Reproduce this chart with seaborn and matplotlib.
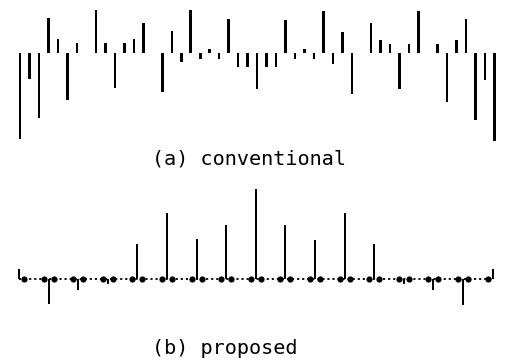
import numpy as np
import pandas as pd
import matplotlib
matplotlib.use("Agg")
import matplotlib.pyplot as plt
import seaborn as sns

# ----- data -----
# (a) conventional: 51 coefficients
conv_values = [-86, -26, -65, 35, 14, -47, 10, 0, 43, 10,
               -35, 10, 14, 30, 0, -39, 22, -9, 43, -6,
               4, -6, 34, -14, -14, -36, -14, -14, 33, -6,
               4, -6, 42, -11, 21, -41, 0, 30, 13, 9,
               -36, 9, 42, 0, 9, -49, 13, 34, -67, -27, -88]
conv_index = list(range(len(conv_values)))

# (b) proposed: 17 stems
prop_values = [10, -25, -11, -5, 35, 65, 40, 54, 89, 54, 39, 65, 35, -5, -11, -26, 10]
prop_index = list(range(len(prop_values)))

titles = ["(a) conventional", "(b) proposed"]

sns.set_theme(style="white")
plt.rcParams['font.family'] = ['DejaVu Sans Mono', 'DejaVu Sans']

fig = plt.figure(figsize=(5.06, 3.61), dpi=100)
fig.patch.set_facecolor("white")

# -----(a) conventional-----
ax1 = fig.add_axes([0.0302, 0.5975, 0.956, 0.385])
df_a = pd.DataFrame({"n": conv_index, "v": conv_values})
sns.barplot(data=df_a, x="n", y="v", color="black", width=0.27,
            saturation=1, linewidth=0, ax=ax1)
ax1.set_xlim(-0.5, len(conv_values) - 0.5)
ax1.set_ylim(-92, 47)
ax1.axis("off")

# -----(b) proposed-----
ax2 = fig.add_axes([0.020, 0.1454, 0.971, 0.3463])
ax2.hlines(0, prop_index[0], prop_index[-1], colors="black",
           linestyles=(0, (1.2, 1.6)), linewidth=1.3, zorder=1)
df_b = pd.DataFrame({"n": prop_index, "v": prop_values})
sns.barplot(data=df_b, x="n", y="v", color="black", width=0.07,
            saturation=1, linewidth=0, ax=ax2, zorder=2)

# filled dots on each side of the stems (not outside the ends)
off = 0.17
dot_x = [k - off for k in prop_index[1:]] + [k + off for k in prop_index[:-1]]
sns.scatterplot(x=dot_x, y=np.zeros(len(dot_x)), color="black", s=20,
                linewidth=0, ax=ax2, zorder=3)
ax2.set_xlim(-0.3, len(prop_values) - 0.7)
ax2.set_ylim(-30, 95)
ax2.axis("off")

fig.text(0.300, 0.543, titles[0], fontsize=14.5,
         color="black", ha="left", va="baseline")
fig.text(0.300, 0.019, titles[1], fontsize=14.5,
         color="black", ha="left", va="baseline")

fig.savefig("out.png", dpi=100, facecolor="white")
